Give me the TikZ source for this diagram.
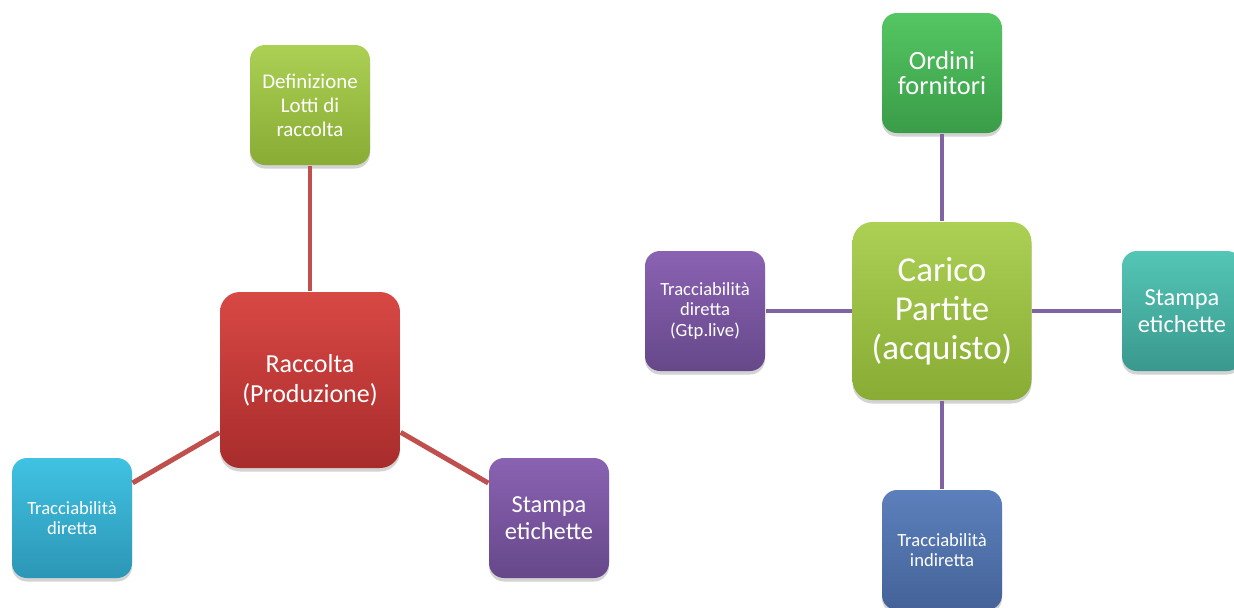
\documentclass[tikz,border=0pt]{standalone}
\usepackage{fontspec}
\setmainfont{Carlito}
\usetikzlibrary{positioning,shadows}

\definecolor{rossoA}{RGB}{216,72,68}
\definecolor{rossoB}{RGB}{168,44,44}
\definecolor{limeA}{RGB}{172,208,84}
\definecolor{limeB}{RGB}{136,172,52}
\definecolor{verdeA}{RGB}{84,198,98}
\definecolor{verdeB}{RGB}{58,156,72}
\definecolor{cianoA}{RGB}{64,194,226}
\definecolor{cianoB}{RGB}{44,150,182}
\definecolor{violaA}{RGB}{138,98,178}
\definecolor{violaB}{RGB}{102,72,138}
\definecolor{tealA}{RGB}{84,198,182}
\definecolor{tealB}{RGB}{58,152,142}
\definecolor{bluA}{RGB}{92,128,188}
\definecolor{bluB}{RGB}{68,98,152}
\definecolor{linkrosso}{RGB}{192,80,77}
\definecolor{linkviola}{RGB}{128,100,162}

\begin{document}
\begin{tikzpicture}[on grid, thick,
  box/.style={rectangle,rounded corners=0.3cm,minimum width=2.4cm,minimum height=2.4cm,inner sep=1pt,text=white,align=center,drop shadow={opacity=0.35,shadow xshift=0pt,shadow yshift=-0.07cm}},
  hub/.style={box,rounded corners=0.4cm},
  small txt/.style={font=\fontsize{10.6}{11.6}\selectfont},
  mid txt/.style={font=\fontsize{13.9}{15.2}\selectfont},
  red box/.style={top color=rossoA,bottom color=rossoB},
  lime box/.style={top color=limeA,bottom color=limeB},
  green box/.style={top color=verdeA,bottom color=verdeB},
  cyan box/.style={top color=cianoA,bottom color=cianoB},
  purple box/.style={top color=violaA,bottom color=violaB},
  teal box/.style={top color=tealA,bottom color=tealB},
  blue box/.style={top color=bluA,bottom color=bluB}]
  \useasboundingbox (0,0) rectangle (24.68,-12.14);
  \clip (0,0) rectangle (24.68,-12.14);

  % produzione
  \node[hub,red box,minimum width=3.6cm,minimum height=3.52cm,font=\fontsize{14.8}{17}\selectfont] (racc) at (6.2,-7.6) {Raccolta\\(Produzione)};
  \node[box,lime box,font=\fontsize{11.9}{13.7}\selectfont] (lotti) [above=5.5cm of racc] {Definizione\\Lotti di\\raccolta};
  \node[box,cyan box,small txt] (tracc) [below left=2.76cm and 4.76cm of racc] {Tracciabilità\\diretta};
  \node[box,purple box,mid txt] (stampa) [below right=2.76cm and 4.78cm of racc] {Stampa\\etichette};

  % acquisto
  \node[hub,lime box,minimum width=3.58cm,minimum height=3.56cm,font=\fontsize{19.9}{22.2}\selectfont] (carico) at (18.84,-6.22) {Carico\\Partite\\(acquisto)};
  \node[box,green box,font=\fontsize{15}{14.6}\selectfont] (ordini) [above=4.76cm of carico] {Ordini\\fornitori};
  \node[box,purple box,small txt] (gtp) [left=4.74cm of carico] {Tracciabilità\\diretta\\(Gtp.live)};
  \node[box,teal box,mid txt] (stampab) [right=4.8cm of carico] {Stampa\\etichette};
  \node[box,blue box,small txt] (indir) [below=4.78cm of carico] {Tracciabilità\\indiretta};

  \path[draw=linkrosso,line width=2.8pt]
    (racc) edge (lotti)
    (racc) edge (tracc)
    (racc) edge (stampa);
  \path[draw=linkviola,line width=2.3pt]
    (carico) edge (ordini)
    (carico) edge (gtp)
    (carico) edge (stampab)
    (carico) edge (indir);
\end{tikzpicture}
\end{document}
